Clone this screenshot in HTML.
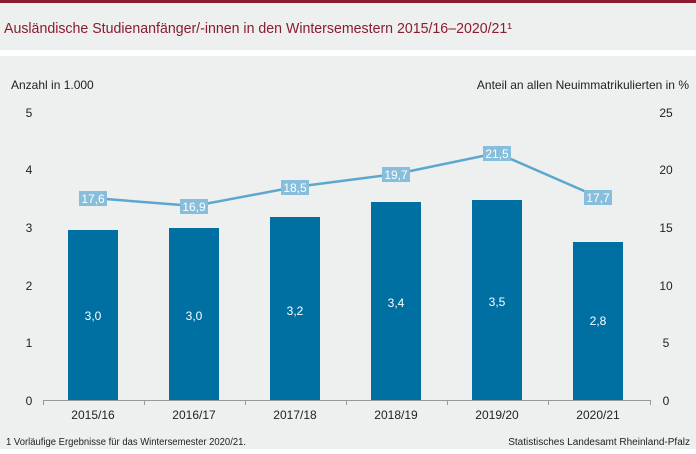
<!DOCTYPE html>
<html><head><meta charset="utf-8"><style>
body{margin:0;width:696px;height:449px;overflow:hidden;background:#fff;font-family:"Liberation Sans",sans-serif}
</style></head><body>
<svg width="696" height="449" xmlns="http://www.w3.org/2000/svg" font-family="Liberation Sans, sans-serif">
<rect x="0" y="0" width="696" height="449" fill="#eeefef"/>
<rect x="0" y="0" width="696" height="3" fill="#8a1c32"/>
<rect x="0" y="50" width="696" height="6" fill="#fff"/>
<text x="4" y="33" font-size="14.5" fill="#8a1c32" textLength="508" lengthAdjust="spacingAndGlyphs">Ausländische Studienanfänger/-innen in den Wintersemestern 2015/16–2020/21¹</text>
<text x="11" y="89" font-size="12" fill="#222">Anzahl in 1.000</text>
<text x="689" y="89" font-size="12" fill="#222" text-anchor="end">Anteil an allen Neuimmatrikulierten in %</text>
<g font-size="12" fill="#222" text-anchor="middle">
<text x="29" y="405">0</text><text x="29" y="347">1</text><text x="29" y="290">2</text><text x="29" y="232">3</text><text x="29" y="174">4</text><text x="29" y="117">5</text>
<text x="666" y="405">0</text><text x="666" y="347">5</text><text x="666" y="290">10</text><text x="666" y="232">15</text><text x="666" y="174">20</text><text x="666" y="117">25</text>
</g>
<g fill="#0070a3">
<rect x="68" y="230" width="50" height="170"/>
<rect x="169" y="228" width="50" height="172"/>
<rect x="270" y="217" width="50" height="183"/>
<rect x="371" y="202" width="50" height="198"/>
<rect x="472" y="200" width="50" height="200"/>
<rect x="573" y="242" width="50" height="158"/>
</g>
<line x1="43" y1="400.5" x2="651" y2="400.5" stroke="#999" stroke-width="1"/>
<g stroke="#999"><line x1="43.5" y1="400" x2="43.5" y2="405"/><line x1="144.5" y1="400" x2="144.5" y2="405"/><line x1="245.5" y1="400" x2="245.5" y2="405"/><line x1="346.5" y1="400" x2="346.5" y2="405"/><line x1="447.5" y1="400" x2="447.5" y2="405"/><line x1="548.5" y1="400" x2="548.5" y2="405"/><line x1="650.5" y1="400" x2="650.5" y2="405"/></g>
<g font-size="12" fill="#fff" text-anchor="middle">
<text x="93" y="320">3,0</text><text x="194" y="320">3,0</text><text x="295" y="315">3,2</text><text x="396" y="307">3,4</text><text x="497" y="306">3,5</text><text x="598" y="325">2,8</text>
</g>
<g font-size="12" fill="#222" text-anchor="middle">
<text x="93" y="419">2015/16</text><text x="194" y="419">2016/17</text><text x="295" y="419">2017/18</text><text x="396" y="419">2018/19</text><text x="497" y="419">2019/20</text><text x="598" y="419">2020/21</text>
</g>
<polyline points="93,198 194,206 295,187 396,174 497,153 598,197" fill="none" stroke="#5ba7cf" stroke-width="2.5"/>
<g fill="#86bedb">
<rect x="79" y="191" width="28" height="15"/><rect x="180" y="199" width="28" height="15"/><rect x="281" y="180" width="28" height="15"/><rect x="382" y="167" width="28" height="15"/><rect x="483" y="146" width="28" height="15"/><rect x="584" y="190" width="28" height="15"/>
</g>
<g font-size="12" fill="#fff" text-anchor="middle">
<text x="93" y="203">17,6</text><text x="194" y="211">16,9</text><text x="295" y="192">18,5</text><text x="396" y="179">19,7</text><text x="497" y="158">21,5</text><text x="598" y="202">17,7</text>
</g>
<text x="6" y="445" font-size="10" fill="#222" textLength="240" lengthAdjust="spacingAndGlyphs">1 Vorläufige Ergebnisse für das Wintersemester 2020/21.</text>
<text x="690" y="445" font-size="10" fill="#222" text-anchor="end">Statistisches Landesamt Rheinland-Pfalz</text>
</svg>
</body></html>
